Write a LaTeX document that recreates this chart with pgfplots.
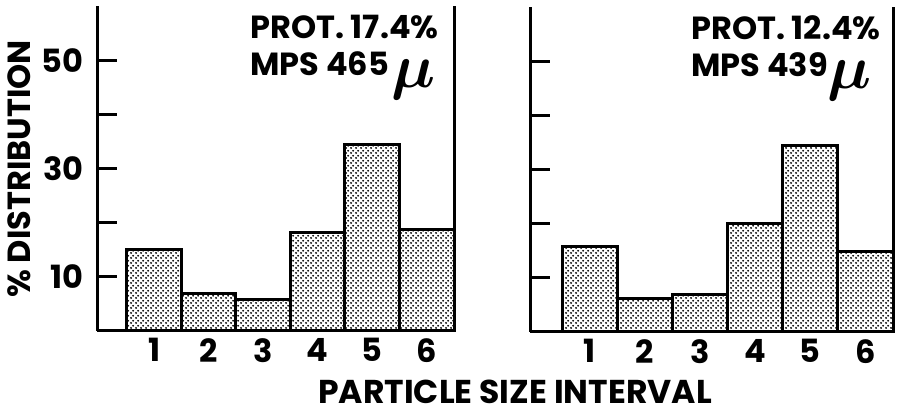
\documentclass[border=0pt]{standalone}
\usepackage{pgfplots}
\pgfplotsset{compat=1.18}
\usepackage{fontspec}
\setmainfont{Poppins}
\usetikzlibrary{patterns}
\pgfdeclarepatternformonly{mydots}{\pgfqpoint{0pt}{0pt}}{\pgfqpoint{5pt}{5pt}}{\pgfqpoint{5pt}{5pt}}{%
  \pgfpathcircle{\pgfqpoint{1.25pt}{1.25pt}}{1.2pt}%
  \pgfpathcircle{\pgfqpoint{3.75pt}{3.75pt}}{1.2pt}%
  \pgfusepath{fill}}
\newcommand{\tickfont}{\fontsize{32}{36}\selectfont\bfseries}
\newcommand{\annfont}{\fontsize{32}{37}\selectfont\bfseries}
\newcommand{\bigmu}{\smash{\raisebox{-12pt}{\scalebox{2.5}{\boldmath$\mu$}}}}
\pgfplotsset{
  panel/.style={
    scale only axis,
    ymin=0, ymax=60,
    xmax=6.5,
    axis x line*=bottom, axis y line*=left,
    axis line style={-, line width=3pt, black},
    xtick={1,2,3,4,5,6},
    xticklabels={1,2,3,4,5,6},
    xtick style={draw=none},
    ytick={10,20,30,40,50},
    ytick style={line width=3pt, black},
    major tick length=20pt,
    tick align=inside,
    tick label style={font=\tickfont},
    y tick label style={xshift=-10pt},
    x tick label style={yshift=-4pt},
    clip=false,
  },
  barsty/.style={ybar, bar width=1, draw=black, line width=3pt,
    pattern=mydots, pattern color=black},
}
\begin{document}
\begin{tikzpicture}
\useasboundingbox (0pt,0pt) rectangle (905pt,414pt);
\begin{axis}[panel, at={(97pt,83pt)}, anchor=south west,
  width=357pt, height=325pt, xmin=-0.05,
  yticklabels={10,,30,,50}]
\addplot[barsty] coordinates {(1,15.1) (2,7.0) (3,5.9) (4,18.1) (5,34.5) (6,18.7)};
\draw[line width=3pt] (rel axis cs:1,0) -- (rel axis cs:1,1);
\end{axis}
\begin{axis}[panel, at={(530pt,82pt)}, anchor=south west,
  width=363pt, height=325pt, xmin=-0.08,
  yticklabels={,,,,}]
\addplot[barsty] coordinates {(1,15.8) (2,6.1) (3,6.9) (4,20.0) (5,34.4) (6,14.9)};
\draw[line width=3pt] (rel axis cs:1,0) -- (rel axis cs:1,1);
\end{axis}
\node[anchor=north west, align=left, inner sep=0pt, font=\annfont] at (250pt,399pt) {PROT. 17.4\%\\MPS 465\hspace{3pt}\bigmu};
\node[anchor=north west, align=left, inner sep=0pt, font=\annfont] at (691pt,399pt) {PROT. 12.4\%\\MPS 439\bigmu};
\node[rotate=90, inner sep=0pt, font=\fontsize{32}{36}\selectfont\bfseries] at (19pt,245pt) {\% DISTRIBUTION};
\node[anchor=base, inner sep=0pt, font=\fontsize{33}{36}\selectfont\bfseries] at (515pt,10pt) {PARTICLE SIZE INTERVAL};
\end{tikzpicture}
\end{document}
